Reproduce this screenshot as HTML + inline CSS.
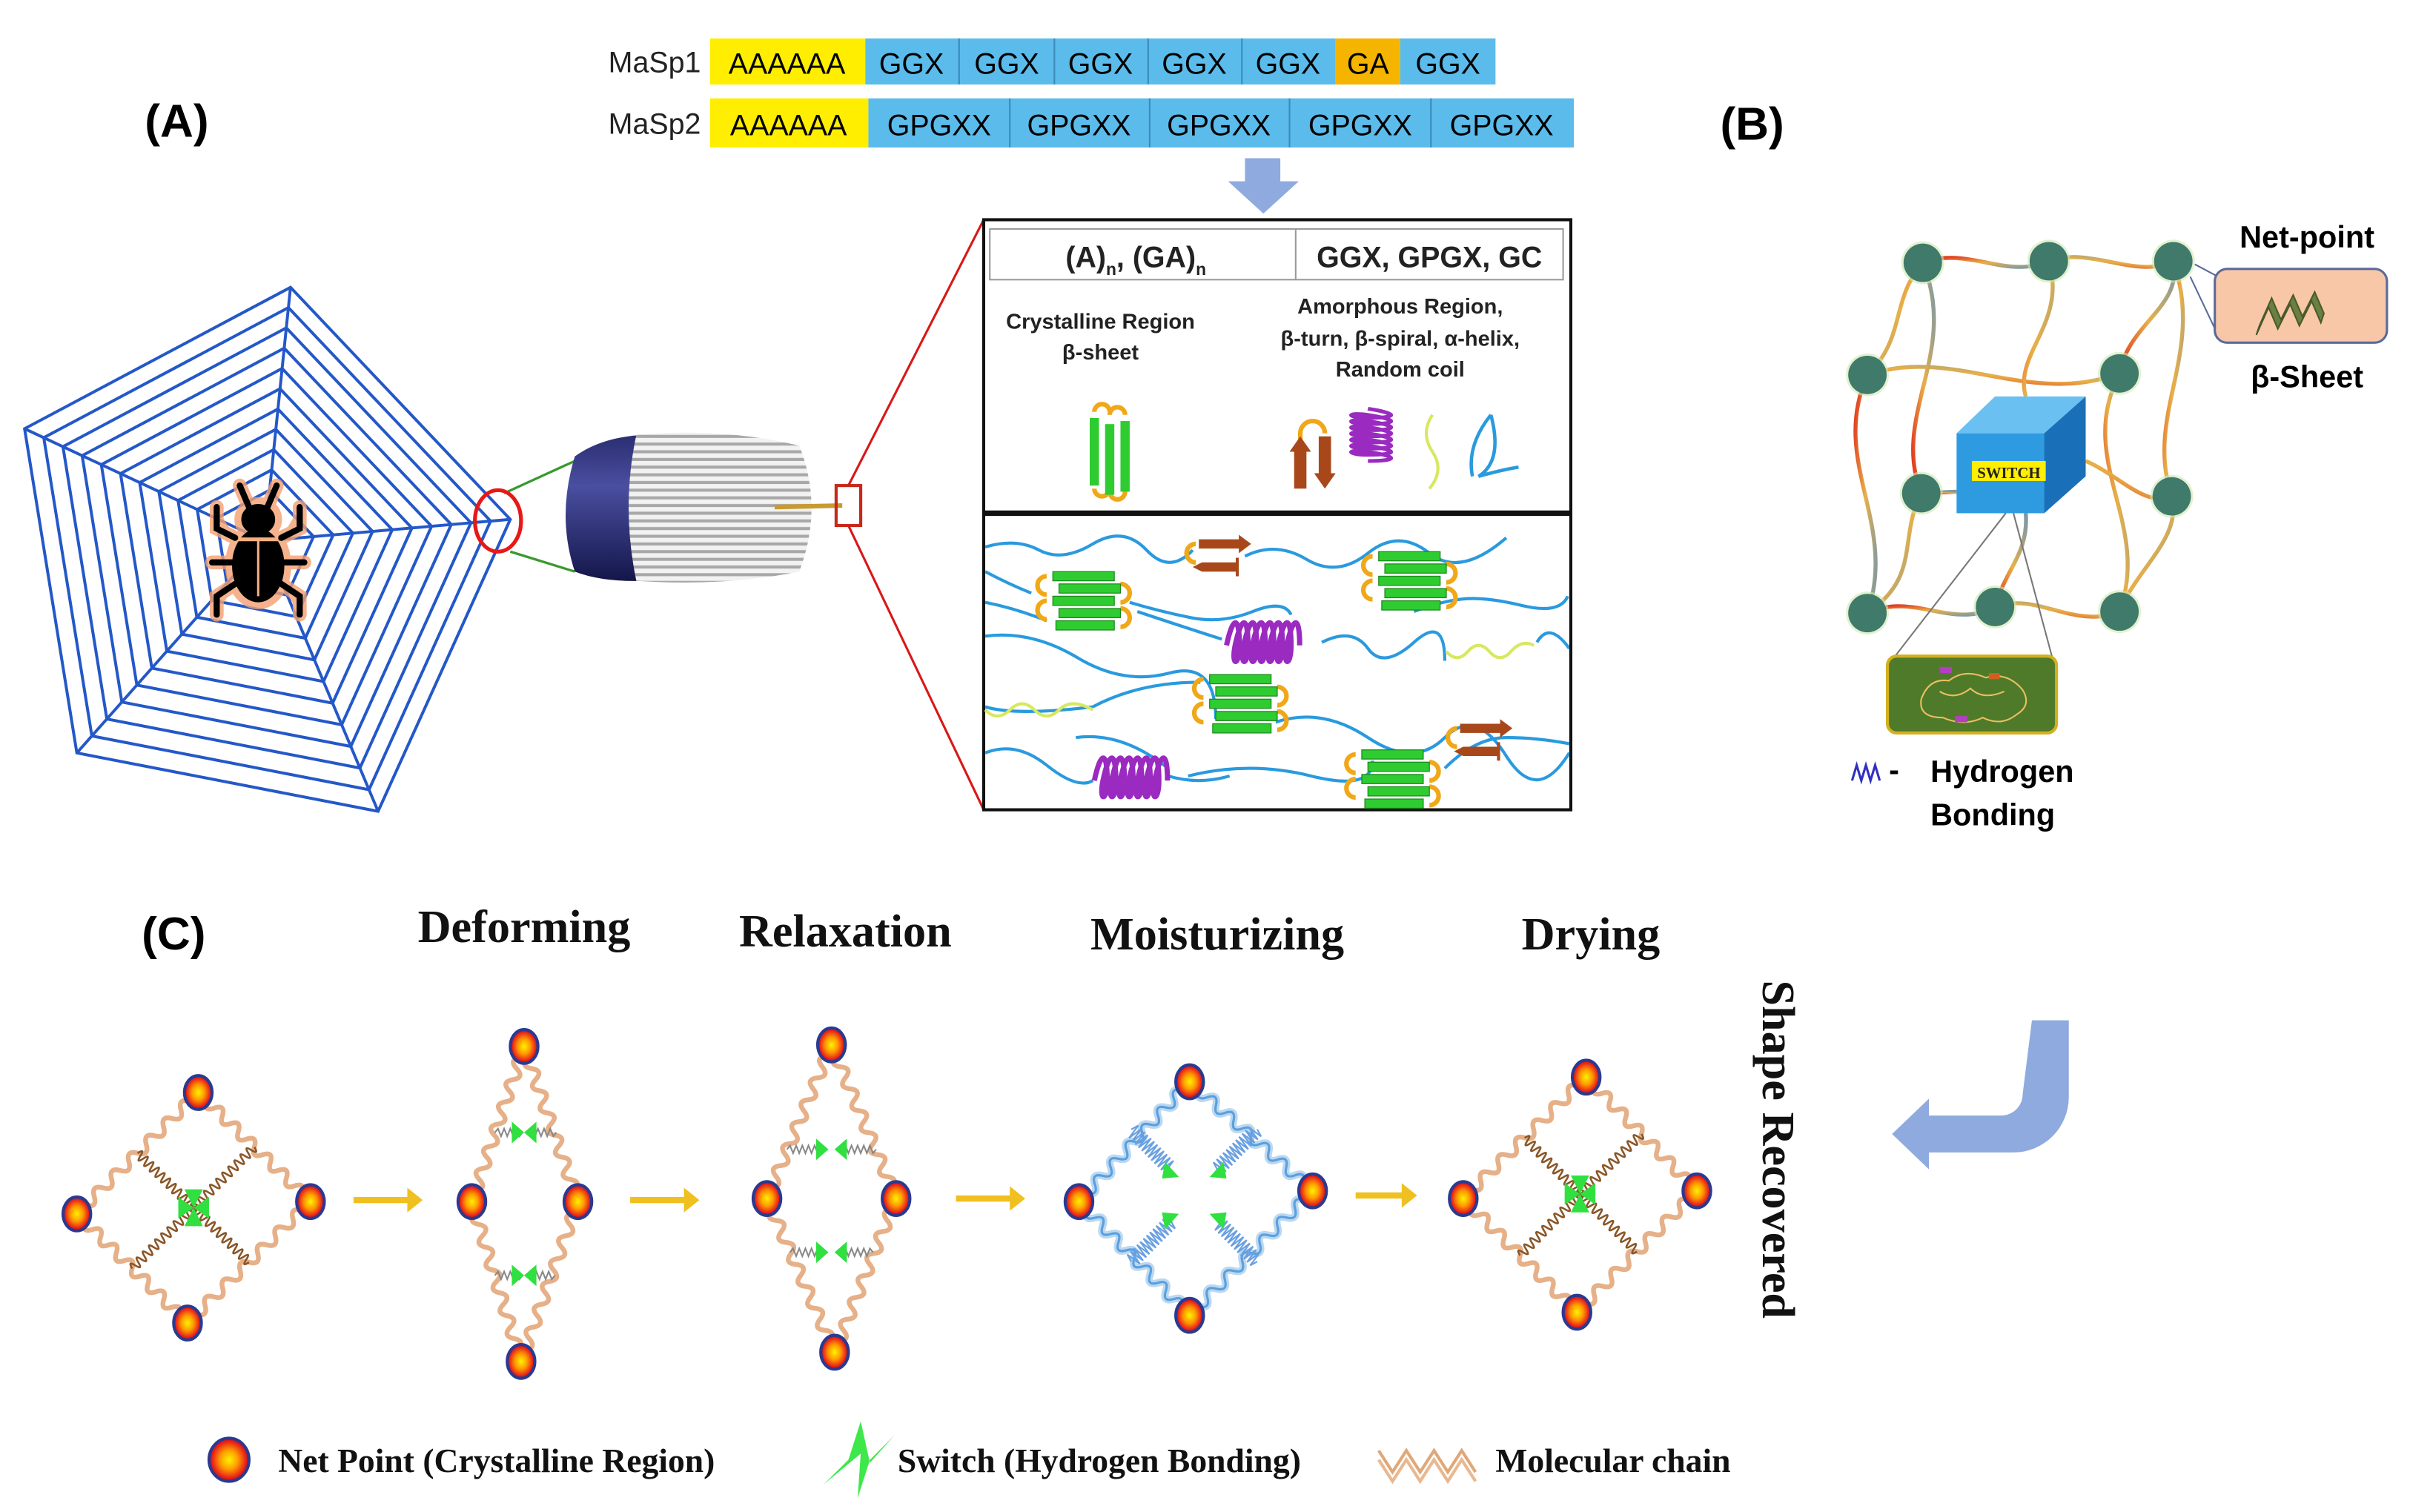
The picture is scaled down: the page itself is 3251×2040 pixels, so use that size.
<!DOCTYPE html>
<html><head><meta charset="utf-8">
<style>
html,body{margin:0;padding:0;background:#fff;}
svg{display:block;}
.sans{font-family:"Liberation Sans",sans-serif;}
.serif{font-family:"Liberation Serif",serif;}
.ns{vector-effect:non-scaling-stroke;}
</style></head>
<body>
<svg width="3251" height="2040" viewBox="0 0 1568 984" preserveAspectRatio="none" xmlns="http://www.w3.org/2000/svg">
<defs>
<radialGradient id="np" cx="50%" cy="50%" r="50%">
<stop offset="0" stop-color="#fff200"/><stop offset="0.45" stop-color="#ff9a00"/><stop offset="0.85" stop-color="#e8201a"/><stop offset="1" stop-color="#b0101a"/>
</radialGradient>
<linearGradient id="ch1" x1="0" y1="0" x2="1" y2="1"><stop offset="0" stop-color="#e0301c"/><stop offset="0.5" stop-color="#e8b048"/><stop offset="1" stop-color="#7898a8"/></linearGradient>
<linearGradient id="ch2" x1="1" y1="0" x2="0" y2="1"><stop offset="0" stop-color="#7898a8"/><stop offset="0.5" stop-color="#e8b048"/><stop offset="1" stop-color="#e0301c"/></linearGradient>
<linearGradient id="cyl" x1="0" y1="0" x2="0" y2="1"><stop offset="0" stop-color="#2a2d70"/><stop offset="0.35" stop-color="#4a4fa0"/><stop offset="1" stop-color="#14164a"/></linearGradient>
<pattern id="fib" width="6" height="5" patternUnits="userSpaceOnUse"><rect width="6" height="5" fill="#a8a8a8"/><rect width="6" height="3" fill="#f2f2f2"/></pattern>
<path id="w" class="ns" fill="none" d="M0,0 q3.57,-7 7.14,0 t7.14,0 t7.14,0 t7.14,0 t7.14,0 t7.14,0 t7.14,0 t7.14,0 t7.14,0 t7.14,0 t7.14,0 t7.14,0 t7.14,0 t7.14,0"/>
<path id="wi" class="ns" fill="none" d="M0,0 q2.5,-6 5,0 t5,0 t5,0 t5,0 t5,0 t5,0 t5,0 t5,0 t5,0 t5,0 t5,0 t5,0 t5,0 t5,0 t5,0 t5,0 t5,0 t5,0 t5,0 t5,0"/>
<path id="z" class="ns" fill="none" d="M0,0 l4,-5 l4,10 l4,-10 l4,10 l4,-10 l4,10 l4,-10 l4,10 l4,-10 l4,10 l4,-10 l4,10 l4,-10 l4,10 l4,-10 l4,10 l4,-10 l4,10 l4,-10 l4,10 l4,-10 l4,10 l4,-10 l4,10 l4,-5"/>
<polygon id="pent" class="ns" points="189,187 332,338 246,528 50,490 16,279"/>
<g id="sheet">
 <path d="M-22,-14 a6,6 0 0 0 0,12" fill="none" stroke="#f0a818" stroke-width="3"/>
 <path d="M26,-9 a6,6 0 0 1 0,12" fill="none" stroke="#f0a818" stroke-width="3"/>
 <path d="M-22,2 a6,6 0 0 0 0,12" fill="none" stroke="#f0a818" stroke-width="3"/>
 <path d="M26,7 a6,6 0 0 1 0,12" fill="none" stroke="#f0a818" stroke-width="3"/>
 <rect x="-18" y="-17" width="40" height="6" fill="#2ecc30" stroke="#1a8a1a" stroke-width="0.6"/>
 <rect x="-14" y="-9" width="40" height="6" fill="#2ecc30" stroke="#1a8a1a" stroke-width="0.6"/>
 <rect x="-18" y="-1" width="40" height="6" fill="#2ecc30" stroke="#1a8a1a" stroke-width="0.6"/>
 <rect x="-14" y="7" width="40" height="6" fill="#2ecc30" stroke="#1a8a1a" stroke-width="0.6"/>
 <rect x="-16" y="15" width="38" height="6" fill="#2ecc30" stroke="#1a8a1a" stroke-width="0.6"/>
</g>
<g id="barr">
 <path d="M-10,-8 a5,5 0 0 0 0,12" fill="none" stroke="#f0a818" stroke-width="3"/>
 <path d="M-8,-11 h26 v-3 l8,6 -8,6 v-3 h-26z" fill="#a8481a"/>
 <path d="M-6,4 h22 v-3 h2 v12 h-2 v-3 h-22 l-6,-3z" fill="#a8481a"/>
</g>
<g id="helix"><path d="M0,0 c3,-14 6,-14 6,0 c0,10 -4,10 -2,0 c3,-14 6,-14 6,0 c0,10 -4,10 -2,0 c3,-14 6,-14 6,0 c0,10 -4,10 -2,0 c3,-14 6,-14 6,0 c0,10 -4,10 -2,0 c3,-14 6,-14 6,0 c0,10 -4,10 -2,0 c3,-14 6,-14 6,0 c0,10 -4,10 -2,0 c3,-14 6,-14 6,0 c0,10 -4,10 -2,0 c3,-14 6,-14 6,0" fill="none" stroke="#9a2ac0" stroke-width="2.4"/></g>
<ellipse id="nd" cx="0" cy="0" rx="9" ry="11" fill="url(#np)" stroke="#2a3a90" stroke-width="2"/>
<g id="bnode"><circle r="14" fill="#cfe8b0" opacity="0.6"/><circle r="12.5" fill="#3f7a6a"/></g>
</defs>

<!-- Labels -->
<text x="115" y="89" class="sans" font-size="30" font-weight="bold" text-anchor="middle">(A)</text>
<text x="1140" y="91" class="sans" font-size="30" font-weight="bold" text-anchor="middle">(B)</text>
<text x="113" y="618" class="sans" font-size="30" font-weight="bold" text-anchor="middle">(C)</text>

<!-- sequences -->
<g class="sans" font-size="19">
<text x="456" y="47" text-anchor="end" fill="#222">MaSp1</text>
<text x="456" y="87" text-anchor="end" fill="#222">MaSp2</text>
<rect x="462" y="25" width="101" height="30" fill="#ffee00"/>
<rect x="563" y="25" width="306" height="30" fill="#5bbcec"/>
<rect x="869" y="25" width="42" height="30" fill="#f4b400"/>
<rect x="911" y="25" width="62" height="30" fill="#5bbcec"/>
<g stroke="#3a8ab8" stroke-width="1"><line x1="624" y1="25" x2="624" y2="55"/><line x1="686" y1="25" x2="686" y2="55"/><line x1="747" y1="25" x2="747" y2="55"/><line x1="808" y1="25" x2="808" y2="55"/></g>
<text x="512" y="48" text-anchor="middle">AAAAAA</text>
<text x="593" y="48" text-anchor="middle">GGX</text><text x="655" y="48" text-anchor="middle">GGX</text><text x="716" y="48" text-anchor="middle">GGX</text><text x="777" y="48" text-anchor="middle">GGX</text><text x="838" y="48" text-anchor="middle">GGX</text><text x="890" y="48" text-anchor="middle">GA</text><text x="942" y="48" text-anchor="middle">GGX</text>
<rect x="462" y="64" width="103" height="32" fill="#ffee00"/>
<rect x="565" y="64" width="459" height="32" fill="#5bbcec"/>
<g stroke="#3a8ab8" stroke-width="1"><line x1="657" y1="64" x2="657" y2="96"/><line x1="748" y1="64" x2="748" y2="96"/><line x1="839" y1="64" x2="839" y2="96"/><line x1="931" y1="64" x2="931" y2="96"/></g>
<text x="513" y="88" text-anchor="middle">AAAAAA</text>
<text x="611" y="88" text-anchor="middle">GPGXX</text><text x="702" y="88" text-anchor="middle">GPGXX</text><text x="793" y="88" text-anchor="middle">GPGXX</text><text x="885" y="88" text-anchor="middle">GPGXX</text><text x="977" y="88" text-anchor="middle">GPGXX</text>
</g>
<path d="M810,103 h23 v15 h12 l-23,21 -23,-21 h11z" fill="#8eaadf"/>

<!-- web -->
<g fill="none" stroke="#2458c8" stroke-width="4">
<use href="#pent"/>
<use href="#pent" transform="translate(172,352) scale(0.92) translate(-172,-352)"/>
<use href="#pent" transform="translate(172,352) scale(0.84) translate(-172,-352)"/>
<use href="#pent" transform="translate(172,352) scale(0.76) translate(-172,-352)"/>
<use href="#pent" transform="translate(172,352) scale(0.68) translate(-172,-352)"/>
<use href="#pent" transform="translate(172,352) scale(0.60) translate(-172,-352)"/>
<use href="#pent" transform="translate(172,352) scale(0.52) translate(-172,-352)"/>
<use href="#pent" transform="translate(172,352) scale(0.44) translate(-172,-352)"/>
<use href="#pent" transform="translate(172,352) scale(0.36) translate(-172,-352)"/>
<use href="#pent" transform="translate(172,352) scale(0.28) translate(-172,-352)"/>
<use href="#pent" transform="translate(172,352) scale(0.20) translate(-172,-352)"/>
</g>
<g stroke="#2458c8" stroke-width="1.9">
<line x1="172" y1="352" x2="189" y2="187"/><line x1="172" y1="352" x2="332" y2="338"/><line x1="172" y1="352" x2="246" y2="528"/><line x1="172" y1="352" x2="50" y2="490"/><line x1="172" y1="352" x2="16" y2="279"/>
</g>
<!-- beetle -->
<g transform="translate(168,358)">
 <g stroke="#f4a070" stroke-width="9" stroke-linecap="round" fill="#f4a070" opacity="0.8">
  <ellipse cx="0" cy="10" rx="17" ry="24"/><ellipse cx="0" cy="-20" rx="11" ry="10"/>
  <path d="M-15,-8 l-12,-6 v-14 M15,-8 l12,-6 v-14 M-16,8 h-14 M16,8 h14 M-15,22 l-12,8 v12 M15,22 l12,8 v12 M-6,-28 l-6,-14 M6,-28 l6,-14"/>
 </g>
 <g stroke="#000" stroke-width="4" stroke-linecap="round" fill="#000">
  <ellipse cx="0" cy="10" rx="15" ry="22"/><ellipse cx="0" cy="-20" rx="9" ry="8"/>
  <path d="M-15,-8 l-12,-6 v-14 M15,-8 l12,-6 v-14 M-16,8 h-14 M16,8 h14 M-15,22 l-12,8 v12 M15,22 l12,8 v12 M-6,-28 l-6,-14 M6,-28 l6,-14" fill="none"/>
 </g>
 <path d="M-13,-7 h26" stroke="#f4b080" stroke-width="2.5"/>
 <path d="M0,-6 v36" stroke="#f4b080" stroke-width="1.5"/>
</g>
<!-- red circle & green lines -->
<line x1="328" y1="321" x2="374" y2="300" stroke="#3a9a30" stroke-width="1.6"/>
<line x1="332" y1="359" x2="374" y2="372" stroke="#3a9a30" stroke-width="1.6"/>
<ellipse cx="324" cy="339" rx="15" ry="20" fill="none" stroke="#e81818" stroke-width="2.5"/>
<!-- fiber cylinder -->
<path d="M374,297 Q392,284 420,283 L420,378 Q392,379 374,372 Q362,336 374,297z" fill="url(#cyl)"/>
<path d="M414,283 Q470,278 520,290 Q536,330 520,372 Q470,382 414,378 Q404,330 414,283z" fill="url(#fib)"/>
<line x1="504" y1="330" x2="548" y2="329" stroke="#c89a30" stroke-width="3"/>
<rect x="544" y="316" width="16" height="26" fill="none" stroke="#c8281a" stroke-width="2"/>
<line x1="552" y1="316" x2="640" y2="143" stroke="#d81818" stroke-width="1.5"/>
<line x1="552" y1="342" x2="640" y2="527" stroke="#d81818" stroke-width="1.5"/>

<!-- box -->
<rect x="640" y="143" width="382" height="384" fill="#fff" stroke="#111" stroke-width="2"/>
<line x1="640" y1="334" x2="1022" y2="334" stroke="#111" stroke-width="3.5"/>
<rect x="644" y="149" width="373" height="33" fill="#fff" stroke="#999" stroke-width="1"/>
<line x1="843" y1="149" x2="843" y2="182" stroke="#999" stroke-width="1"/>
<g class="sans" font-weight="bold" fill="#222">
<text x="739" y="174" font-size="19" text-anchor="middle">(A)<tspan font-size="11" dy="5">n</tspan><tspan dy="-5">, (GA)</tspan><tspan font-size="11" dy="5">n</tspan></text>
<text x="930" y="174" font-size="19" text-anchor="middle">GGX, GPGX, GC</text>
<text x="716" y="214" font-size="14" text-anchor="middle">Crystalline Region</text>
<text x="716" y="234" font-size="14" text-anchor="middle">β-sheet</text>
<text x="911" y="204" font-size="14" text-anchor="middle">Amorphous Region,</text>
<text x="911" y="225" font-size="14" text-anchor="middle">β-turn, β-spiral, α-helix,</text>
<text x="911" y="245" font-size="14" text-anchor="middle">Random coil</text>
</g>
<!-- legend icons -->
<g>
 <path d="M712,268 a5,5 0 0 1 10,0 M722,318 a5,5 0 0 1 -10,0" fill="none" stroke="#f0a818" stroke-width="3"/>
 <path d="M722,270 a5,5 0 0 1 10,0 M732,320 a5,5 0 0 1 -10,0" fill="none" stroke="#f0a818" stroke-width="3"/>
 <rect x="709" y="272" width="6" height="44" fill="#2ecc30"/><rect x="719" y="276" width="6" height="46" fill="#2ecc30"/><rect x="729" y="274" width="6" height="46" fill="#2ecc30"/>
 <path d="M846,300 v-18 a8,8 0 0 1 16,0" fill="none" stroke="#f0a818" stroke-width="3"/>
 <path d="M842,318 v-24 h-3 l7,-10 7,10 h-3 v24z M858,284 h8 v24 h3 l-7,10 -7,-10 h3z" fill="#a8481a"/>
 <g transform="translate(890,266) rotate(90) scale(1,1.4)"><use href="#helix"/></g>
 <path d="M932,270 q-8,12 0,24 q8,12 -2,24" fill="none" stroke="#d8e860" stroke-width="2"/>
 <path d="M970,270 q-16,20 -12,40 M970,270 q8,30 -8,40 q14,-4 26,-6" fill="none" stroke="#2a9ade" stroke-width="2.2"/>
</g>
<!-- bottom box chains -->
<clipPath id="bx"><rect x="641" y="336" width="380" height="190"/></clipPath>
<g fill="none" stroke="#2a9ade" stroke-width="2" clip-path="url(#bx)">
<path d="M641,356 q20,-6 35,2 t35,-4 t35,4 t30,0 M810,362 q20,-10 40,2 t40,-4 t40,0 t50,-10"/>
<path d="M641,372 q15,8 30,14 M735,392 q20,6 40,10 t40,-4 t25,2 M920,398 q15,-6 30,-8 t40,4 t30,-6"/>
<path d="M641,392 q20,4 40,12 M740,398 q30,10 55,18 M860,418 q20,-10 30,4 t30,-4 t20,12 M1000,418 q8,-14 21,4"/>
<path d="M641,414 q30,-4 60,14 t60,10 t30,30 M830,470 q30,-10 60,10 t50,0 t40,12 t41,-2"/>
<path d="M641,460 q20,6 70,0 M711,460 q30,-16 70,-16 M700,480 q30,-4 60,20 M760,505 q20,6 40,0"/>
<path d="M641,490 q20,-8 40,8 t30,10 M773,505 q40,-10 80,0 t40,-10 M940,500 q20,-20 40,-20 t41,4"/>
</g>
<use href="#sheet" x="703" y="389"/>
<use href="#sheet" x="915" y="376"/>
<use href="#sheet" x="805" y="456"/>
<use href="#sheet" x="904" y="505"/>
<use href="#barr" x="788" y="362"/>
<use href="#barr" x="958" y="482"/>
<g transform="translate(798,420) scale(1.4)"><use href="#helix"/></g>
<g transform="translate(712,508) scale(1.4)"><use href="#helix"/></g>
<path d="M941,424 q7,8 14,0 t14,0 t14,0 t15,-4" fill="none" stroke="#d8e860" stroke-width="2"/>
<path d="M641,462 q8,8 16,0 t16,0 t16,0 t22,0" fill="none" stroke="#d8e860" stroke-width="2"/>

<!-- Panel B -->
<g fill="none" stroke-width="2.6">
<path stroke="url(#ch1)" d="M1251,171 C1280,160 1305,182 1333,170"/>
<path stroke="url(#ch2)" d="M1333,170 C1360,160 1390,182 1414,170"/>
<path stroke="url(#ch1)" d="M1251,171 C1230,195 1240,220 1215,244"/>
<path stroke="url(#ch2)" d="M1414,170 C1420,200 1385,210 1379,243"/>
<path stroke="url(#ch1)" d="M1414,170 C1435,230 1395,270 1413,323"/>
<path stroke="url(#ch2)" d="M1215,244 C1270,225 1320,265 1379,243"/>
<path stroke="url(#ch1)" d="M1215,244 C1190,300 1235,340 1215,399"/>
<path stroke="url(#ch2)" d="M1379,243 C1350,300 1400,340 1379,398"/>
<path stroke="url(#ch1)" d="M1250,321 C1235,350 1250,375 1215,399"/>
<path stroke="url(#ch2)" d="M1250,321 L1273,320"/>
<path stroke="url(#ch1)" d="M1215,399 C1245,385 1270,410 1298,395"/>
<path stroke="url(#ch2)" d="M1298,395 C1325,385 1350,410 1379,398"/>
<path stroke="url(#ch2)" d="M1251,171 C1275,230 1230,270 1250,321"/>
<path stroke="url(#ch1)" d="M1333,170 C1345,210 1310,230 1318,258"/>
<path stroke="url(#ch2)" d="M1298,395 C1305,370 1320,360 1318,334"/>
<path stroke="url(#ch1)" d="M1413,323 C1420,350 1390,370 1379,398"/>
<path stroke="url(#ch2)" d="M1357,300 C1380,310 1395,330 1413,323"/>
</g>
<use href="#bnode" x="1251" y="171"/><use href="#bnode" x="1333" y="170"/><use href="#bnode" x="1414" y="170"/>
<use href="#bnode" x="1215" y="244"/><use href="#bnode" x="1379" y="243"/>
<use href="#bnode" x="1250" y="321"/><use href="#bnode" x="1413" y="323"/>
<use href="#bnode" x="1215" y="399"/><use href="#bnode" x="1298" y="395"/><use href="#bnode" x="1379" y="398"/>
<g>
 <polygon points="1273,282 1298,258 1357,258 1330,282" fill="#6ac0f0"/>
 <polygon points="1330,282 1357,258 1357,310 1330,334" fill="#1a70b8"/>
 <rect x="1273" y="282" width="57" height="52" fill="#2e9ae0"/>
 <rect x="1283" y="300" width="48" height="13" fill="#ffee00"/>
 <text x="1307" y="311" class="serif" font-size="10" font-weight="bold" text-anchor="middle" fill="#222">SWITCH</text>
</g>
<line x1="1428" y1="172" x2="1443" y2="180" stroke="#5b6a9a" stroke-width="1"/>
<line x1="1425" y1="180" x2="1443" y2="218" stroke="#5b6a9a" stroke-width="1"/>
<rect x="1441" y="175" width="112" height="48" rx="8" fill="#f7c7a8" stroke="#5b6a9a" stroke-width="1.5"/>
<path d="M1470,212 l8,-18 l6,14 l8,-16 l6,14 l8,-16 l6,14 l-2,6 l-6,-14 l-8,16 l-6,-14 l-8,16 l-6,-14 l-8,18z" fill="#6a8040" stroke="#4a5a2a" stroke-width="1"/>
<text x="1501" y="161" class="sans" font-size="20" font-weight="bold" text-anchor="middle">Net-point</text>
<text x="1501" y="252" class="sans" font-size="20" font-weight="bold" text-anchor="middle">β-Sheet</text>
<line x1="1305" y1="334" x2="1233" y2="427" stroke="#777" stroke-width="1"/>
<line x1="1310" y1="334" x2="1335" y2="427" stroke="#777" stroke-width="1"/>
<rect x="1228" y="427" width="110" height="50" rx="6" fill="#4f7a2a" stroke="#d4b020" stroke-width="2"/>
<path d="M1250,455 q5,-14 18,-12 q10,-8 24,-2 q14,-4 24,8 q6,10 -4,16 q-10,8 -22,2 q-12,6 -26,0 q-16,0 -14,-12z M1262,450 q10,6 20,-2 q8,8 22,2" fill="none" stroke="#e8c060" stroke-width="1"/>
<rect x="1262" y="434" width="8" height="4" fill="#b040c0"/><rect x="1272" y="466" width="8" height="4" fill="#b040c0"/><rect x="1294" y="438" width="7" height="4" fill="#d06020"/>
<path d="M1205,508 l3,-10 3,10 3,-10 3,10 3,-10 3,10" fill="none" stroke="#3030c0" stroke-width="1.5"/>
<text x="1229" y="508" class="sans" font-size="20" font-weight="bold">-</text>
<text x="1256" y="509" class="sans" font-size="20" font-weight="bold">Hydrogen</text>
<text x="1256" y="537" class="sans" font-size="20" font-weight="bold">Bonding</text>

<!-- Panel C titles -->
<g class="serif" font-size="30" font-weight="bold" text-anchor="middle" fill="#111">
<text x="341" y="613">Deforming</text>
<text x="550" y="616">Relaxation</text>
<text x="792" y="618">Moisturizing</text>
<text x="1035" y="618">Drying</text>
<text x="0" y="0" transform="translate(1147,748) rotate(90)">Shape Recovered</text>
</g>
<path d="M1322,664 h24 v50 a36,36 0 0 1 -36,36 h-55 v11 l-24,-23 24,-23 v11 h47 a14,14 0 0 0 14,-14z" fill="#8eaadf"/>

<!-- Diamond 1 -->
<g stroke="#e6b088" stroke-width="6.5">
<use href="#w" transform="translate(129,711) rotate(135) scale(1.117,1)"/>
<use href="#w" transform="translate(129,711) rotate(44.2) scale(1.018,1)"/>
<use href="#w" transform="translate(50,790) rotate(44.6) scale(1.011,1)"/>
<use href="#w" transform="translate(202,782) rotate(135.4) scale(1.124,1)"/>
</g>
<g stroke="#8a5628" stroke-width="2.6">
<use href="#wi" transform="translate(89.5,750.5) rotate(44.2) scale(0.509,1)"/>
<use href="#wi" transform="translate(165.5,746.5) rotate(135) scale(0.559,1)"/>
<use href="#wi" transform="translate(86,825.5) rotate(-44.6) scale(0.562,1)"/>
<use href="#wi" transform="translate(162,821.5) rotate(-135.4) scale(0.506,1)"/>
</g>
<polygon points="116,779 126,786 116,793" fill="#30e040"/><polygon points="136,779 126,786 136,793" fill="#30e040"/>
<polygon points="120,774 126,786 132,774" fill="#30e040"/><polygon points="120,798 126,786 132,798" fill="#30e040"/>
<use href="#nd" x="129" y="711"/><use href="#nd" x="50" y="790"/><use href="#nd" x="202" y="782"/><use href="#nd" x="122" y="861"/>
<path d="M230,779 H265 V773 L275,781 L265,789 V783 H230z" fill="#f0c020"/>

<!-- Diamond 2 -->
<g stroke="#e6b088" stroke-width="6.5">
<use href="#w" transform="translate(341,681) rotate(108.6) scale(1.066,1)"/>
<use href="#w" transform="translate(341,681) rotate(70.9) scale(1.069,1)"/>
<use href="#w" transform="translate(307,782) rotate(72.9) scale(1.088,1)"/>
<use href="#w" transform="translate(376,782) rotate(109.6) scale(1.104,1)"/>
</g>
<g fill="none" stroke="#888" stroke-width="1">
<path d="M322,737 l2,-2.5 2,5 2,-5 2,5 2,-5 2,5 2,-5 2,5 2,-2.5 M344,737 l2,-2.5 2,5 2,-5 2,5 2,-5 2,5 2,-5 2,5 2,-2.5"/>
<path d="M322,830 l2,-2.5 2,5 2,-5 2,5 2,-5 2,5 2,-5 2,5 2,-2.5 M343,830 l2,-2.5 2,5 2,-5 2,5 2,-5 2,5 2,-5 2,5 2,-2.5"/>
</g>
<polygon points="333,730 341,737 333,744" fill="#30e040"/><polygon points="349,730 341,737 349,744" fill="#30e040"/>
<polygon points="333,823 341,830 333,837" fill="#30e040"/><polygon points="349,823 341,830 349,837" fill="#30e040"/>
<use href="#nd" x="341" y="681"/><use href="#nd" x="307" y="782"/><use href="#nd" x="376" y="782"/><use href="#nd" x="339" y="886"/>
<path d="M410,779 H445 V773 L455,781 L445,789 V783 H410z" fill="#f0c020"/>

<!-- Diamond 3 -->
<g stroke="#e6b088" stroke-width="6.5">
<use href="#w" transform="translate(541,680) rotate(112.8) scale(1.085,1)"/>
<use href="#w" transform="translate(541,680) rotate(67.2) scale(1.085,1)"/>
<use href="#w" transform="translate(499,780) rotate(66.3) scale(1.093,1)"/>
<use href="#w" transform="translate(583,780) rotate(111.8) scale(1.077,1)"/>
</g>
<g fill="none" stroke="#888" stroke-width="1">
<path d="M512,748 l2,-2.5 2,5 2,-5 2,5 2,-5 2,5 2,-5 2,5 2,-5 2,5 2,-2.5 M548,748 l2,-2.5 2,5 2,-5 2,5 2,-5 2,5 2,-5 2,5 2,-5 2,5 2,-2.5"/>
<path d="M514,815 l2,-2.5 2,5 2,-5 2,5 2,-5 2,5 2,-5 2,5 2,-5 2,2.5 M548,815 l2,-2.5 2,5 2,-5 2,5 2,-5 2,5 2,-5 2,5 2,-5 2,2.5"/>
</g>
<polygon points="531,741 539,748 531,755" fill="#30e040"/><polygon points="551,741 543,748 551,755" fill="#30e040"/>
<polygon points="531,808 539,815 531,822" fill="#30e040"/><polygon points="551,808 543,815 551,822" fill="#30e040"/>
<use href="#nd" x="541" y="680"/><use href="#nd" x="499" y="780"/><use href="#nd" x="583" y="780"/><use href="#nd" x="543" y="880"/>
<path d="M622,778 H657 V772 L667,780 L657,788 V782 H622z" fill="#f0c020"/>

<!-- Diamond 4 -->
<g stroke="#bcd8f0" stroke-width="10">
<use href="#w" transform="translate(774,704) rotate(132.7) scale(1.061,1)"/>
<use href="#w" transform="translate(774,704) rotate(41.6) scale(1.07,1)"/>
<use href="#w" transform="translate(702,782) rotate(45.8) scale(1.032,1)"/>
<use href="#w" transform="translate(854,775) rotate(134.6) scale(1.138,1)"/>
</g>
<g stroke="#5aa0e0" stroke-width="3.2">
<use href="#w" transform="translate(774,704) rotate(132.7) scale(1.061,1)"/>
<use href="#w" transform="translate(774,704) rotate(41.6) scale(1.07,1)"/>
<use href="#w" transform="translate(702,782) rotate(45.8) scale(1.032,1)"/>
<use href="#w" transform="translate(854,775) rotate(134.6) scale(1.138,1)"/>
</g>
<g stroke="#6aa0e0" stroke-width="2.2">
<use href="#z" transform="translate(736,735) rotate(45) scale(0.368,1)"/>
<use href="#z" transform="translate(818,735) rotate(135) scale(0.368,1)"/>
<use href="#z" transform="translate(736,821) rotate(-45) scale(0.368,1)"/>
<use href="#z" transform="translate(818,821) rotate(-135) scale(0.368,1)"/>
</g>
<polygon points="758,756 767,766 756,767" fill="#30e040"/><polygon points="796,756 787,766 798,767" fill="#30e040"/>
<polygon points="758,800 767,790 756,789" fill="#30e040"/><polygon points="796,800 787,790 798,789" fill="#30e040"/>
<use href="#nd" x="774" y="704"/><use href="#nd" x="702" y="782"/><use href="#nd" x="854" y="775"/><use href="#nd" x="774" y="856"/>
<path d="M882,776 H912 V770 L922,778 L912,786 V780 H882z" fill="#f0c020"/>

<!-- Diamond 5 -->
<g stroke="#e6b088" stroke-width="6.5">
<use href="#w" transform="translate(1032,701) rotate(135.4) scale(1.124,1)"/>
<use href="#w" transform="translate(1032,701) rotate(45.8) scale(1.032,1)"/>
<use href="#w" transform="translate(952,780) rotate(45) scale(1.047,1)"/>
<use href="#w" transform="translate(1104,775) rotate(134.6) scale(1.11,1)"/>
</g>
<g stroke="#8a5628" stroke-width="2.6">
<use href="#wi" transform="translate(992,740.5) rotate(45.4) scale(0.513,1)"/>
<use href="#wi" transform="translate(1068,738) rotate(135.7) scale(0.559,1)"/>
<use href="#wi" transform="translate(989,817) rotate(-45.7) scale(0.559,1)"/>
<use href="#wi" transform="translate(1065,814.5) rotate(-134.6) scale(0.527,1)"/>
</g>
<polygon points="1018,770 1028,777 1018,784" fill="#30e040"/><polygon points="1038,770 1028,777 1038,784" fill="#30e040"/>
<polygon points="1022,765 1028,777 1034,765" fill="#30e040"/><polygon points="1022,789 1028,777 1034,789" fill="#30e040"/>
<use href="#nd" x="1032" y="701"/><use href="#nd" x="952" y="780"/><use href="#nd" x="1104" y="775"/><use href="#nd" x="1026" y="854"/>

<!-- legend -->
<g class="serif" font-size="22" font-weight="bold" fill="#111">
<text x="181" y="958">Net Point (Crystalline Region)</text>
<text x="584" y="958">Switch (Hydrogen Bonding)</text>
<text x="973" y="958">Molecular chain</text>
</g>
<ellipse cx="149" cy="950" rx="13" ry="14" fill="url(#np)" stroke="#2a3a90" stroke-width="2"/>
<polygon points="560,925 552,950 536,966 560,946 558,975 566,950 582,934 566,952" fill="#3ee84a"/>
<path d="M897,944 l9,14 9,-14 9,14 9,-14 9,14 9,-14 9,14" fill="none" stroke="#e0a878" stroke-width="2"/>
<path d="M897,950 l9,14 9,-14 9,14 9,-14 9,14 9,-14 9,14" fill="none" stroke="#e8b890" stroke-width="2"/>
</svg>
</body></html>
